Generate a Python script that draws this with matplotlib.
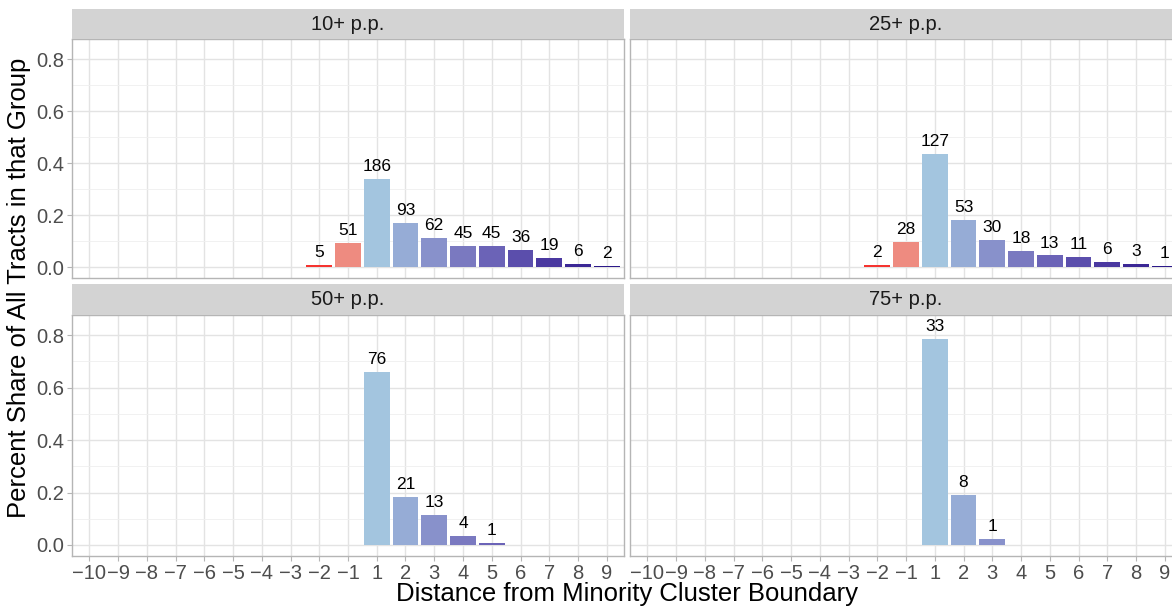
import matplotlib
matplotlib.use("Agg")
import matplotlib.pyplot as plt
from matplotlib.ticker import MultipleLocator

plt.rcParams["font.family"] = ["Liberation Sans", "DejaVu Sans"]

# distance categories (no zero) and tick labels
distances = list(range(-10, 0)) + list(range(1, 10))
tick_labels = [str(d).replace("-", "\u2212") for d in distances]

# tract counts by distance for each threshold group
dist_10 = [-2, -1, 1, 2, 3, 4, 5, 6, 7, 8, 9]
n_10 = [5, 51, 186, 93, 62, 45, 45, 36, 19, 6, 2]
dist_25 = [-2, -1, 1, 2, 3, 4, 5, 6, 7, 8, 9]
n_25 = [2, 28, 127, 53, 30, 18, 13, 11, 6, 3, 1]
dist_50 = [1, 2, 3, 4, 5]
n_50 = [76, 21, 13, 4, 1]
dist_75 = [1, 2, 3]
n_75 = [33, 8, 1]

groups = ["10+ p.p.", "25+ p.p.", "50+ p.p.", "75+ p.p."]

fill = {-2: "#f5332f", -1: "#ee8b80", 1: "#a3c5df", 2: "#96acd6", 3: "#8891cb",
        4: "#7a79c0", 5: "#6b63b7", 6: "#5b4eac", 7: "#4a38a0", 8: "#3b2795",
        9: "#2c198a"}

W, H = 1172, 607
fig = plt.figure(figsize=(W / 100, H / 100), dpi=100)

def frac(x0, y0, x1, y1):
    return [x0 / W, 1 - y1 / H, (x1 - x0) / W, (y1 - y0) / H]

panel_px = [(72, 39, 624, 278), (630, 39, 1182, 278),
            (72, 315, 624, 556), (630, 315, 1182, 556)]
strip_px = [(72, 9, 624, 39), (630, 9, 1182, 39),
            (72, 284, 624, 315), (630, 284, 1182, 315)]

data = [(dist_10, n_10), (dist_25, n_25), (dist_50, n_50), (dist_75, n_75)]

for i, ((d, n), name) in enumerate(zip(data, groups)):
    ax = fig.add_axes(frac(*panel_px[i]))
    total = sum(n)
    share = [v / total for v in n]
    pos = [distances.index(v) for v in d]
    ax.bar(pos, share, width=0.9, color=[fill[v] for v in d], zorder=3)
    for p, s, v in zip(pos, share, n):
        ax.text(p, s + 0.048, str(v), ha="center", va="center",
                fontsize=12.5, color="black", zorder=4)

    ax.set_xlim(-0.6, len(distances) - 0.4)
    ax.set_ylim(-0.042, 0.877)
    ax.yaxis.set_major_locator(MultipleLocator(0.2))
    ax.yaxis.set_minor_locator(MultipleLocator(0.1))
    ax.set_xticks(range(len(distances)))
    ax.grid(True, which="major", color="#e3e3e3", lw=1.0, zorder=0)
    ax.grid(True, which="minor", axis="y", color="#efefef", lw=0.6, zorder=0)
    ax.set_axisbelow(True)
    for sp in ax.spines.values():
        sp.set_color("#b5b5b5")
        sp.set_linewidth(1.0)
    ax.tick_params(which="major", length=3.5, width=0.8, color="#b5b5b5",
                   labelsize=14.5, labelcolor="#4d4d4d", pad=2)
    ax.tick_params(which="minor", length=0)

    if i % 2 == 0:
        ax.set_yticklabels([f"{t:.1f}" for t in ax.get_yticks()])
    else:
        ax.tick_params(axis="y", labelleft=False, length=0)
    if i >= 2:
        ax.set_xticklabels(tick_labels)
    else:
        ax.tick_params(axis="x", labelbottom=False, length=0)

    st = fig.add_axes(frac(*strip_px[i]))
    st.set_facecolor("#d3d3d3")
    st.set_xticks([])
    st.set_yticks([])
    for sp in st.spines.values():
        sp.set_visible(False)
    st.text(276 / 552, 0.5, name, transform=st.transAxes, ha="center",
            va="center", fontsize=14.5, color="#1a1a1a")

fig.text(627 / W, 1 - 594 / H, "Distance from Minority Cluster Boundary",
         ha="center", va="center", fontsize=18.5, color="black")
fig.text(19 / W, 1 - 288 / H, "Percent Share of All Tracts in that Group",
         ha="center", va="center", rotation=90, fontsize=18.5, color="black")

fig.savefig("out.png", dpi=100)
